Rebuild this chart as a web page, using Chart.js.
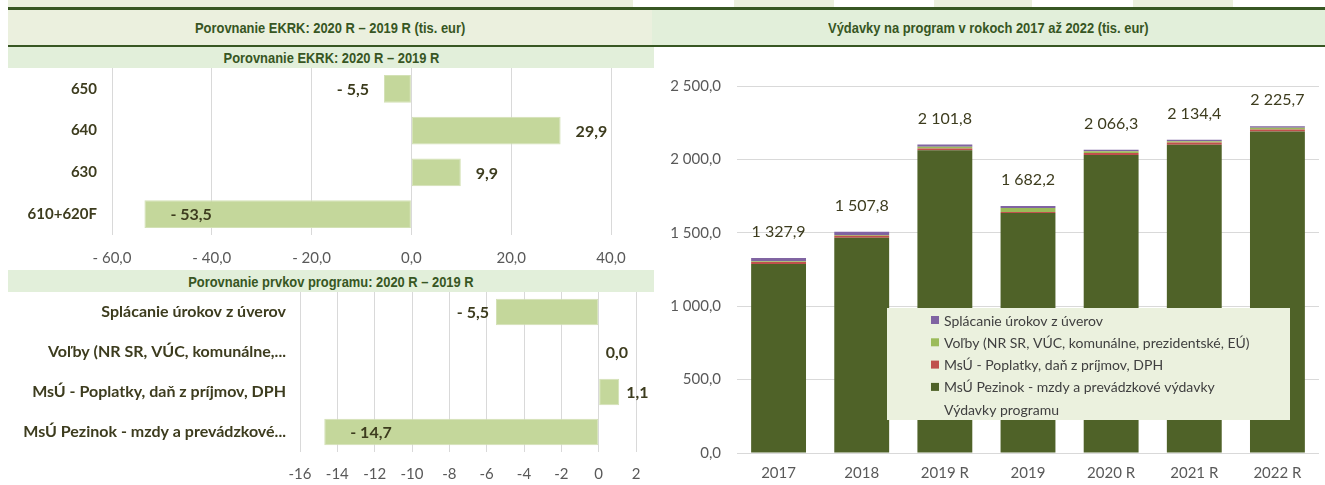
<!DOCTYPE html>
<html lang="sk">
<head>
<meta charset="utf-8">
<title>Výdavky programu</title>
<script src="https://cdn.jsdelivr.net/npm/chart.js@4.4.1/dist/chart.umd.min.js"></script>
<style>
  html, body { margin: 0; padding: 0; background: #fff; }
  #page { position: relative; width: 1325px; height: 485px; overflow: hidden; background: #fff; }
  .band { position: absolute; }
  .title {
    position: absolute; display: flex; align-items: center; justify-content: center;
    color: #375623; font-family: "Liberation Sans", Arial, sans-serif; font-weight: bold;
    font-size: 15px; white-space: nowrap;
  }
  .title span { display: inline-block; transform: scaleX(0.86); }
  canvas { position: absolute; }
</style>
</head>
<body>
<div id="page">
  <!-- table cell remnants above the headers -->
  <div class="band" style="left:8px;top:0;width:625px;height:7px;background:#EBF0DE"></div>
  <div class="band" style="left:734px;top:0;width:100px;height:7px;background:#EBF0DE"></div>
  <div class="band" style="left:934px;top:0;width:98px;height:7px;background:#EBF0DE"></div>
  <div class="band" style="left:1133px;top:0;width:100px;height:7px;background:#EBF0DE"></div>

  <!-- header row -->
  <div class="band" style="left:8px;top:7px;width:1317px;height:3px;background:#385723"></div>
  <div class="title" style="left:8px;top:10px;width:644px;height:35px;background:#EBF0DE"><span>Porovnanie EKRK: 2020 R – 2019 R (tis. eur)</span></div>
  <div class="title" style="left:652px;top:10px;width:673px;height:35px;background:#E2EFDA"><span>Výdavky na program v rokoch 2017 až 2022 (tis. eur)</span></div>
  <div class="band" style="left:8px;top:45px;width:1317px;height:2px;background:#385723"></div>

  <!-- sub headers of the left panels -->
  <div class="title" style="left:8px;top:47px;width:646px;height:21px;background:#E2EFDA"><span>Porovnanie EKRK: 2020 R – 2019 R</span></div>
  <div class="title" style="left:8px;top:270px;width:646px;height:22px;background:#E2EFDA"><span>Porovnanie prvkov programu: 2020 R – 2019 R</span></div>

  <canvas id="ekrk" width="650" height="202" style="left:0;top:66px"></canvas>
  <canvas id="prvky" width="650" height="193" style="left:0;top:292px"></canvas>
  <canvas id="vydavky" width="673" height="438" style="left:652px;top:47px"></canvas>
</div>

<script>
// EKRK comparison 2020 R – 2019 R (tis. eur)
const ekrkCategories = ['650', '640', '630', '610+620F'];
const ekrkDiff = [-5.5, 29.9, 9.9, -53.5];
const ekrkTickValues = [-60, -40, -20, 0, 20, 40];

// Program elements comparison 2020 R – 2019 R
const prvkyCategories = [
  'Splácanie úrokov z úverov',
  'Voľby (NR SR, VÚC, komunálne,...',
  'MsÚ - Poplatky, daň z príjmov, DPH',
  'MsÚ Pezinok - mzdy a prevádzkové...'
];
const prvkyDiff = [-5.5, 0.0, 1.1, -14.7];
const prvkyTickValues = [-16, -14, -12, -10, -8, -6, -4, -2, 0, 2];

// Program spending 2017 – 2022 (tis. eur)
const years = ['2017', '2018', '2019 R', '2019', '2020 R', '2021 R', '2022 R'];
const mzdyPrevadzka = [1286.9, 1465.8, 2061.8, 1634.2, 2030.7, 2100.4, 2189.7];
const poplatkyDane = [14.0, 14.0, 12.0, 7.0, 13.1, 14.0, 14.0];
const volby = [5.0, 6.0, 12.0, 27.0, 12.0, 10.0, 12.0];
const splacanieUrokov = [22.0, 22.0, 16.0, 14.0, 10.5, 10.0, 10.0];
const vydavkyProgramu = [1327.9, 1507.8, 2101.8, 1682.2, 2066.3, 2134.4, 2225.7];
const vydavkyTickValues = [0, 500, 1000, 1500, 2000, 2500];

const TEXT_DARK = '#3D3C1E';
const TICK_GREY = '#595959';
const GRID_GREY = '#D9D9D9';

Chart.defaults.font.family = 'Lato, "Open Sans", sans-serif';
Chart.defaults.animation = false;

function fmtNumber(v) {
  const s = Math.abs(v).toFixed(1).split('.');
  const intPart = s[0].replace(/\B(?=(\d{3})+(?!\d))/g, ' ');
  return intPart + ',' + s[1];
}
function fmtSigned(v) {
  return (v < 0 ? '- ' : '') + fmtNumber(v);
}

function fixedTicks(values) {
  return scale => { scale.ticks = values.map(v => ({ value: v })); };
}

// Value labels at the bar end: outside if it fits in the plot, otherwise inside.
function barEndLabels(cfg) {
  return {
    id: 'barEndLabels',
    afterDatasetsDraw(chart) {
      const { ctx, chartArea } = chart;
      const meta = chart.getDatasetMeta(0);
      const values = chart.data.datasets[0].data;
      ctx.save();
      ctx.font = cfg.font;
      ctx.fillStyle = cfg.color;
      ctx.textBaseline = 'middle';
      meta.data.forEach((bar, i) => {
        const v = values[i];
        const text = fmtSigned(v);
        const w = ctx.measureText(text).width;
        let x, align;
        if (v >= 0) {
          x = bar.x + cfg.gapOut; align = 'left';
          if (x + w > chart.width) { x = bar.x - cfg.gapIn; align = 'right'; }
        } else {
          x = bar.x - cfg.gapOut; align = 'right';
          if (x - w < chartArea.left) { x = bar.x + cfg.gapIn; align = 'left'; }
        }
        ctx.textAlign = align;
        ctx.fillText(text, x, bar.y + 1);
      });
      ctx.restore();
    }
  };
}

function horizontalDiffChart(id, labels, values, ticks, geo) {
  return new Chart(document.getElementById(id), {
    type: 'bar',
    data: {
      labels: labels,
      datasets: [{
        data: values,
        backgroundColor: '#C4D79B',
        borderColor: '#D3E1B5',
        borderWidth: 1,
        borderSkipped: false,
        categoryPercentage: 1,
        barPercentage: geo.barPct
      }]
    },
    options: {
      indexAxis: 'y',
      responsive: false,
      devicePixelRatio: 1,
      layout: { padding: { top: geo.top, right: geo.right, bottom: 0, left: 0 } },
      plugins: { legend: { display: false }, tooltip: { enabled: false } },
      scales: {
        x: {
          min: ticks[0], max: ticks[ticks.length - 1],
          afterBuildTicks: fixedTicks(ticks),
          afterFit: s => { s.height = geo.xHeight; s.paddingLeft = 0; s.paddingRight = 0; },
          grid: { color: GRID_GREY, drawTicks: false, lineWidth: 1 },
          border: { display: false },
          ticks: {
            color: TICK_GREY, font: { size: 15 }, padding: geo.xPad,
            maxRotation: 0, autoSkip: false,
            callback: v => geo.tickFmt(v)
          }
        },
        y: {
          afterFit: s => { s.width = geo.yWidth; s.paddingTop = 0; s.paddingBottom = 0; },
          grid: { display: false, drawTicks: false },
          border: { display: false },
          ticks: { color: TEXT_DARK, font: { size: geo.catSize, weight: 'bold' }, padding: geo.yPad }
        }
      }
    },
    plugins: [barEndLabels({ font: 'bold 16px Lato, "Open Sans", sans-serif', color: TEXT_DARK, gapOut: geo.gapOut, gapIn: 26 })]
  });
}

horizontalDiffChart('ekrk', ekrkCategories, ekrkDiff, ekrkTickValues, {
  top: 2, right: 39, xHeight: 33, yWidth: 112, xPad: 14, yPad: 15, barPct: 0.67, gapOut: 15,
  catSize: 15, tickFmt: v => fmtSigned(v)
});

horizontalDiffChart('prvky', prvkyCategories, prvkyDiff, prvkyTickValues, {
  top: 0, right: 14, xHeight: 33, yWidth: 300, xPad: 13, yPad: 14, barPct: 0.66, gapOut: 7,
  catSize: 16, tickFmt: v => String(v)
});

// Totals written above each stacked column
const totalLabels = {
  id: 'totalLabels',
  afterDatasetsDraw(chart) {
    const { ctx } = chart;
    const idx = chart.data.datasets.findIndex(d => d.type === 'line');
    const meta = chart.getDatasetMeta(idx);
    ctx.save();
    ctx.font = '16px Lato, "Open Sans", sans-serif';
    ctx.fillStyle = TEXT_DARK;
    ctx.textAlign = 'center';
    ctx.textBaseline = 'middle';
    meta.data.forEach((pt, i) => {
      ctx.fillText(fmtNumber(chart.data.datasets[idx].data[i]), pt.x, pt.y - 26);
    });
    ctx.restore();
  }
};

// Legend box inside the plot area
const boxLegend = {
  id: 'boxLegend',
  afterDraw(chart) {
    const { ctx, chartArea } = chart;
    const x0 = chartArea.left + 150, y0 = chartArea.top + 222;
    const w = 403, h = 112;
    ctx.save();
    ctx.fillStyle = '#EBF1DE';
    ctx.fillRect(x0, y0, w, h);
    ctx.font = '14px Lato, "Open Sans", sans-serif';
    ctx.textBaseline = 'middle';
    ctx.textAlign = 'left';
    const order = [3, 2, 1, 0, 4];
    order.forEach((di, row) => {
      const ds = chart.data.datasets[di];
      const cy = y0 + 12 + row * 22.3;
      if (ds.type !== 'line') {
        ctx.fillStyle = ds.backgroundColor;
        ctx.fillRect(x0 + 44, cy - 4, 8, 8);
      }
      ctx.fillStyle = '#404040';
      ctx.fillText(ds.label, x0 + 57, cy + 1);
    });
    ctx.restore();
  }
};

new Chart(document.getElementById('vydavky'), {
  type: 'bar',
  data: {
    labels: years,
    datasets: [
      { label: 'MsÚ Pezinok - mzdy a prevádzkové výdavky', data: mzdyPrevadzka, backgroundColor: '#4F6228', stack: 'spolu' },
      { label: 'MsÚ - Poplatky, daň z príjmov, DPH', data: poplatkyDane, backgroundColor: '#C0504D', stack: 'spolu' },
      { label: 'Voľby (NR SR, VÚC, komunálne, prezidentské, EÚ)', data: volby, backgroundColor: '#9BBB59', stack: 'spolu' },
      { label: 'Splácanie úrokov z úverov', data: splacanieUrokov, backgroundColor: '#8064A2', stack: 'spolu' },
      { type: 'line', label: 'Výdavky programu', data: vydavkyProgramu, stack: 'total',
        showLine: false, pointRadius: 0, borderColor: 'rgba(0,0,0,0)', backgroundColor: 'rgba(0,0,0,0)' }
    ].map(d => d.type ? d : Object.assign(d, { categoryPercentage: 1, barPercentage: 0.66 }))
  },
  options: {
    responsive: false,
    devicePixelRatio: 1,
    layout: { padding: { top: 39, right: 6, bottom: 0, left: 0 } },
    plugins: { legend: { display: false }, tooltip: { enabled: false } },
    scales: {
      x: {
        stacked: true,
        afterFit: s => { s.height = 32; },
        grid: { display: false, drawTicks: false },
        border: { display: false },
        ticks: { color: TICK_GREY, font: { size: 15 }, padding: 11, maxRotation: 0, autoSkip: false }
      },
      y: {
        stacked: true,
        min: 0, max: 2500,
        afterBuildTicks: fixedTicks(vydavkyTickValues),
        afterFit: s => { s.width = 85; },
        grid: { color: GRID_GREY, drawTicks: false },
        border: { display: false },
        ticks: { color: TICK_GREY, font: { size: 15 }, padding: 16, callback: v => fmtNumber(v) }
      }
    }
  },
  plugins: [totalLabels, boxLegend]
});
</script>
</body>
</html>
